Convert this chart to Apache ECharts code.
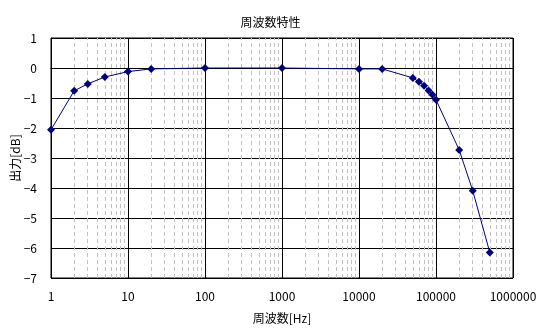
<!DOCTYPE html>
<html>
<head>
<meta charset="utf-8">
<script src="https://cdn.jsdelivr.net/npm/echarts@6/dist/echarts.min.js"></script>
<style>
html,body{margin:0;padding:0;background:#fff;}
#c{width:541px;height:335px;}
</style>
</head>
<body>
<div id="c"></div>
<script>
var titleText = '周波数特性';
var xName = '周波数[Hz]';
var yName = '出力[dB]';
var freqs = [1, 2, 3, 5, 10, 20, 100, 1000, 10000, 20000, 50000, 60000, 70000, 80000, 90000, 100000, 200000, 300000, 500000];
var gains = [-2.06, -0.76, -0.53, -0.30, -0.12, -0.03, 0, 0, -0.03, -0.03, -0.33, -0.46, -0.59, -0.75, -0.89, -1.06, -2.73, -4.09, -6.15];
var decades = [1, 10, 100, 1000, 10000, 100000];
var minorMultipliers = [2, 3, 4, 5, 6, 7, 8, 9];

var minorLines = [];
decades.forEach(function (d) {
  minorMultipliers.forEach(function (m) { minorLines.push({ xAxis: d * m }); });
});

var font = '"Noto Sans CJK JP", "Noto Sans", sans-serif';
var chart = echarts.init(document.getElementById('c'), null, { renderer: 'canvas' });
chart.setOption({
  animation: false,
  backgroundColor: '#fff',
  title: {
    text: titleText, left: 'center', top: 11,
    textStyle: { fontSize: 12, fontWeight: 'normal', color: '#000', fontFamily: font }
  },
  grid: { left: 51, top: 38, width: 462, height: 240, containLabel: false, outerBoundsMode: 'none', show: true, borderColor: '#000', borderWidth: 1, backgroundColor: 'transparent' },
  xAxis: {
    type: 'log', logBase: 10, min: 1, max: 1000000,
    name: xName, nameLocation: 'middle', nameGap: 34, nameMoveOverlap: false,
    nameTextStyle: { fontSize: 12, color: '#000', fontFamily: font },
    axisLine: { show: true, lineStyle: { color: '#000', width: 1 } },
    axisTick: { show: false },
    axisLabel: { color: '#000', fontSize: 12, fontFamily: font, margin: 12, formatter: function (v) { return String(Math.round(v)); } },
    splitLine: { show: true, lineStyle: { color: '#000', width: 1 } }
  },
  yAxis: {
    type: 'value', min: -7, max: 1, interval: 1,
    name: yName, nameLocation: 'middle', nameGap: 30, nameMoveOverlap: false,
    nameTextStyle: { fontSize: 12, color: '#000', fontFamily: font },
    axisLine: { show: true, lineStyle: { color: '#000', width: 1 } },
    axisTick: { show: false },
    axisLabel: { color: '#000', fontSize: 12, fontFamily: font, margin: 14, formatter: function (v) { return String(v).replace('-', '\u2212'); } },
    splitLine: { show: true, lineStyle: { color: '#000', width: 1 } }
  },
  series: [
    {
      type: 'line', data: [], z: 1, silent: true,
      markLine: {
        silent: true, symbol: 'none', animation: false,
        label: { show: false },
        lineStyle: { color: '#c0c0c0', type: [4, 3], width: 1 },
        data: minorLines
      }
    },
    {
      type: 'line', z: 5,
      data: freqs.map(function (f, i) { return [f, gains[i]]; }),
      symbol: 'diamond', symbolSize: 8,
      itemStyle: { color: '#000080' },
      lineStyle: { color: '#000080', width: 1 }
    }
  ]
});
</script>
</body>
</html>
